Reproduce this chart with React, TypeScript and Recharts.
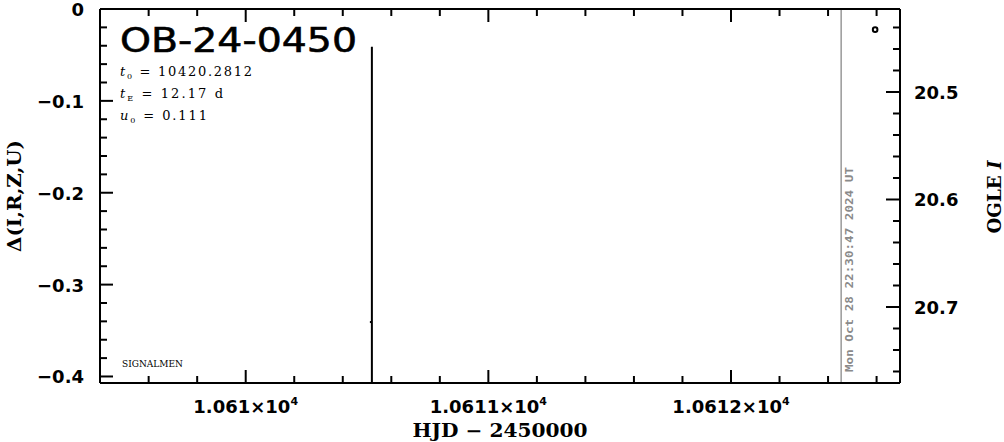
import React from 'react';
import { ComposedChart, Scatter, XAxis, YAxis, ReferenceLine, Customized } from 'recharts';

// ---- data ----
const eventName = 'OB-24-0450';
const t0Text = '10420.2812';
const tEText = '12.17 d';
const u0Text = '0.111';
const observatory = 'SIGNALMEN';
const stampText = 'Mon Oct 28 22:30:47 2024 UT';

const obsHJD = [10610.52, 10612.594];
const obsMag = [20.714, 20.442];
const obsErr = [0.256, 0];

const nowHJD = 10612.454;

const xDomain = [10609.3995, 10612.6965];
const leftDomain = [-0.4071, 0];
const rightDomain = [20.4228, 20.7707];

const xTicks = [10609.6, 10609.8, 10610, 10610.2, 10610.4, 10610.6, 10610.8, 10611, 10611.2, 10611.4, 10611.6, 10611.8, 10612, 10612.2, 10612.4, 10612.6];
const xMajor = [10610, 10611, 10612];
const leftTicks = [0, -0.02, -0.04, -0.06, -0.08, -0.1, -0.12, -0.14, -0.16, -0.18, -0.2, -0.22, -0.24, -0.26, -0.28, -0.3, -0.32, -0.34, -0.36, -0.38, -0.4];
const leftMajor = [0, -0.1, -0.2, -0.3, -0.4];
const rightTicks = [20.44, 20.46, 20.48, 20.5, 20.52, 20.54, 20.56, 20.58, 20.6, 20.62, 20.64, 20.66, 20.68, 20.7, 20.72, 20.74, 20.76];
const rightMajor = [20.5, 20.6, 20.7];

const data = obsHJD.map((h, i) => ({ hjd: h, mag: obsMag[i], err: obsErr[i] }));

const isIn = (arr: number[], v: number) => arr.some((a) => Math.abs(a - v) < 1e-6);

const tickFont = { fontFamily: 'DejaVu Sans', fontWeight: 700, fontSize: 18, fill: '#000' } as const;
const labelFont = { fontFamily: 'DejaVu Serif', fontWeight: 700, fontSize: 18, fill: '#000' } as const;

const BottomTick = (p: any) => {
  const { x, y, payload } = p;
  const major = isIn(xMajor, payload.value);
  return (
    <g>
      <line x1={x} x2={x} y1={y} y2={y - (major ? 13 : 7)} stroke="#000" strokeWidth={2} />
      {major && (
        <text x={x} y={y + 30} textAnchor="middle" {...tickFont}>
          {String(payload.value / 1e4)}×10
          <tspan dy={-8} fontSize={11}>4</tspan>
        </text>
      )}
    </g>
  );
};

const TopTick = (p: any) => {
  const { x, y, payload } = p;
  const major = isIn(xMajor, payload.value);
  return <line x1={x} x2={x} y1={y} y2={y + (major ? 13 : 7)} stroke="#000" strokeWidth={2} />;
};

const LeftTick = (p: any) => {
  const { x, y, payload } = p;
  const v = payload.value;
  const major = isIn(leftMajor, v);
  const txt = Math.abs(v) < 1e-9 ? '0' : '\u2212' + Math.abs(v).toFixed(1);
  return (
    <g>
      <line x1={x} x2={x + (major ? 13 : 7)} y1={y} y2={y} stroke="#000" strokeWidth={2} />
      {major && (
        <text x={x - 16} y={y + 7} textAnchor="end" {...tickFont}>
          {txt}
        </text>
      )}
    </g>
  );
};

const RightTick = (p: any) => {
  const { x, y, payload } = p;
  const v = payload.value;
  const major = isIn(rightMajor, v);
  return (
    <g>
      <line x1={x} x2={x - (major ? 14 : 7)} y1={y} y2={y} stroke="#000" strokeWidth={2} />
      {major && (
        <text x={x + 14} y={y + 7} textAnchor="start" {...tickFont}>
          {v.toFixed(1)}
        </text>
      )}
    </g>
  );
};

const StampLabel = (p: any) => {
  const vb = p.viewBox || {};
  const x = (vb.x ?? 0) + 12;
  const y = (vb.y ?? 0) + (vb.height ?? 0) - 11;
  return (
    <text
      x={x}
      y={y}
      transform={`rotate(-90 ${x} ${y})`}
      textAnchor="start"
      fontFamily="DejaVu Sans Mono"
      fontWeight={700}
      fontSize={11}
      fill="#8a8a8a"
      textLength={205}
      lengthAdjust="spacingAndGlyphs"
    >
      {stampText}
    </text>
  );
};

const PointShape = (p: any) => {
  const { cx, cy, payload } = p;
  if (cx == null || cy == null) return null;
  if (payload.err > 0) {
    return <rect x={cx - 2} y={cy - 1} width={2} height={2} fill="#000" />;
  }
  return <circle cx={cx} cy={cy} r={2.3} fill="#fff" stroke="#000" strokeWidth={2} />;
};

const Overlay = () => (
  <g>
    <text x={120} y={52} fontFamily="DejaVu Sans" fontSize={34} fill="#000" stroke="#000" strokeWidth={0.6} textLength={237} lengthAdjust="spacingAndGlyphs">
      {eventName}
    </text>
    <text x={120} y={76} fontFamily="DejaVu Serif" fontSize={13} fill="#000" textLength={132} lengthAdjust="spacing">
      <tspan fontStyle="italic">t</tspan>
      <tspan fontSize={8} dy={3}>0</tspan>
      <tspan dy={-3}>{' = ' + t0Text}</tspan>
    </text>
    <text x={120} y={98} fontFamily="DejaVu Serif" fontSize={13} fill="#000" textLength={103} lengthAdjust="spacing">
      <tspan fontStyle="italic">t</tspan>
      <tspan fontSize={8} dy={3}>E</tspan>
      <tspan dy={-3}>{' = ' + tEText}</tspan>
    </text>
    <text x={120} y={120} fontFamily="DejaVu Serif" fontSize={13} fill="#000" textLength={87} lengthAdjust="spacing">
      <tspan fontStyle="italic">u</tspan>
      <tspan fontSize={8} dy={3}>0</tspan>
      <tspan dy={-3}>{' = ' + u0Text}</tspan>
    </text>
    <text x={122} y={367} fontFamily="DejaVu Serif" fontSize={9} fill="#000" textLength={61} lengthAdjust="spacingAndGlyphs">
      {observatory}
    </text>
    <text x={21} y={196} transform="rotate(-90 21 196)" textAnchor="middle" {...labelFont} textLength={112} lengthAdjust="spacingAndGlyphs">
      Δ(I,R,Z,U)
    </text>
    <text x={1001} y={197} transform="rotate(-90 1001 197)" textAnchor="middle" {...labelFont} textLength={73} lengthAdjust="spacingAndGlyphs">
      OGLE <tspan fontStyle="italic">I</tspan>
    </text>
    <text x={500} y={437} textAnchor="middle" {...labelFont} textLength={175} lengthAdjust="spacingAndGlyphs">
      HJD − 2450000
    </text>
  </g>
);

export default function App() {
  return (
    <div style={{ position: 'absolute', left: 0, top: 0, width: 1004, height: 442, background: '#fff' }}>
      <ComposedChart width={1004} height={442} data={data} margin={{ top: 8, right: 0, bottom: 0, left: 0 }}>
        <XAxis
          xAxisId="b"
          orientation="bottom"
          type="number"
          dataKey="hjd"
          domain={xDomain}
          allowDataOverflow
          ticks={xTicks}
          interval={0}
          height={59}
          tickSize={0}
          tickMargin={0}
          tickLine={false}
          tick={<BottomTick />}
          axisLine={{ stroke: '#000', strokeWidth: 2 }}
        />
        <XAxis
          xAxisId="t"
          orientation="top"
          type="number"
          dataKey="hjd"
          domain={xDomain}
          allowDataOverflow
          ticks={xTicks}
          interval={0}
          height={1}
          tickSize={0}
          tickMargin={0}
          tickLine={false}
          tick={<TopTick />}
          axisLine={{ stroke: '#000', strokeWidth: 2 }}
        />
        <YAxis
          yAxisId="l"
          orientation="left"
          type="number"
          domain={leftDomain}
          allowDataOverflow
          ticks={leftTicks}
          interval={0}
          width={100}
          tickSize={0}
          tickMargin={0}
          tickLine={false}
          tick={<LeftTick />}
          axisLine={{ stroke: '#000', strokeWidth: 2 }}
        />
        <YAxis
          yAxisId="r"
          orientation="right"
          type="number"
          dataKey="mag"
          domain={rightDomain}
          reversed
          allowDataOverflow
          ticks={rightTicks}
          interval={0}
          width={104}
          tickSize={0}
          tickMargin={0}
          tickLine={false}
          tick={<RightTick />}
          axisLine={{ stroke: '#000', strokeWidth: 2 }}
        />
        <ReferenceLine
          xAxisId="b"
          yAxisId="r"
          x={nowHJD}
          stroke="#999"
          strokeWidth={1.5}
          ifOverflow="hidden"
          label={<StampLabel />}
        />
        {data
          .filter((d) => d.err > 0)
          .map((d, i) => (
            <ReferenceLine
              key={'err' + i}
              xAxisId="b"
              yAxisId="r"
              segment={[
                { x: d.hjd, y: d.mag - d.err },
                { x: d.hjd, y: d.mag + d.err },
              ]}
              stroke="#000"
              strokeWidth={2}
              ifOverflow="hidden"
            />
          ))}
        <Scatter
          xAxisId="b"
          yAxisId="r"
          data={data}
          dataKey="mag"
          isAnimationActive={false}
          shape={<PointShape />}
        />
        <Customized component={Overlay} />
      </ComposedChart>
    </div>
  );
}
